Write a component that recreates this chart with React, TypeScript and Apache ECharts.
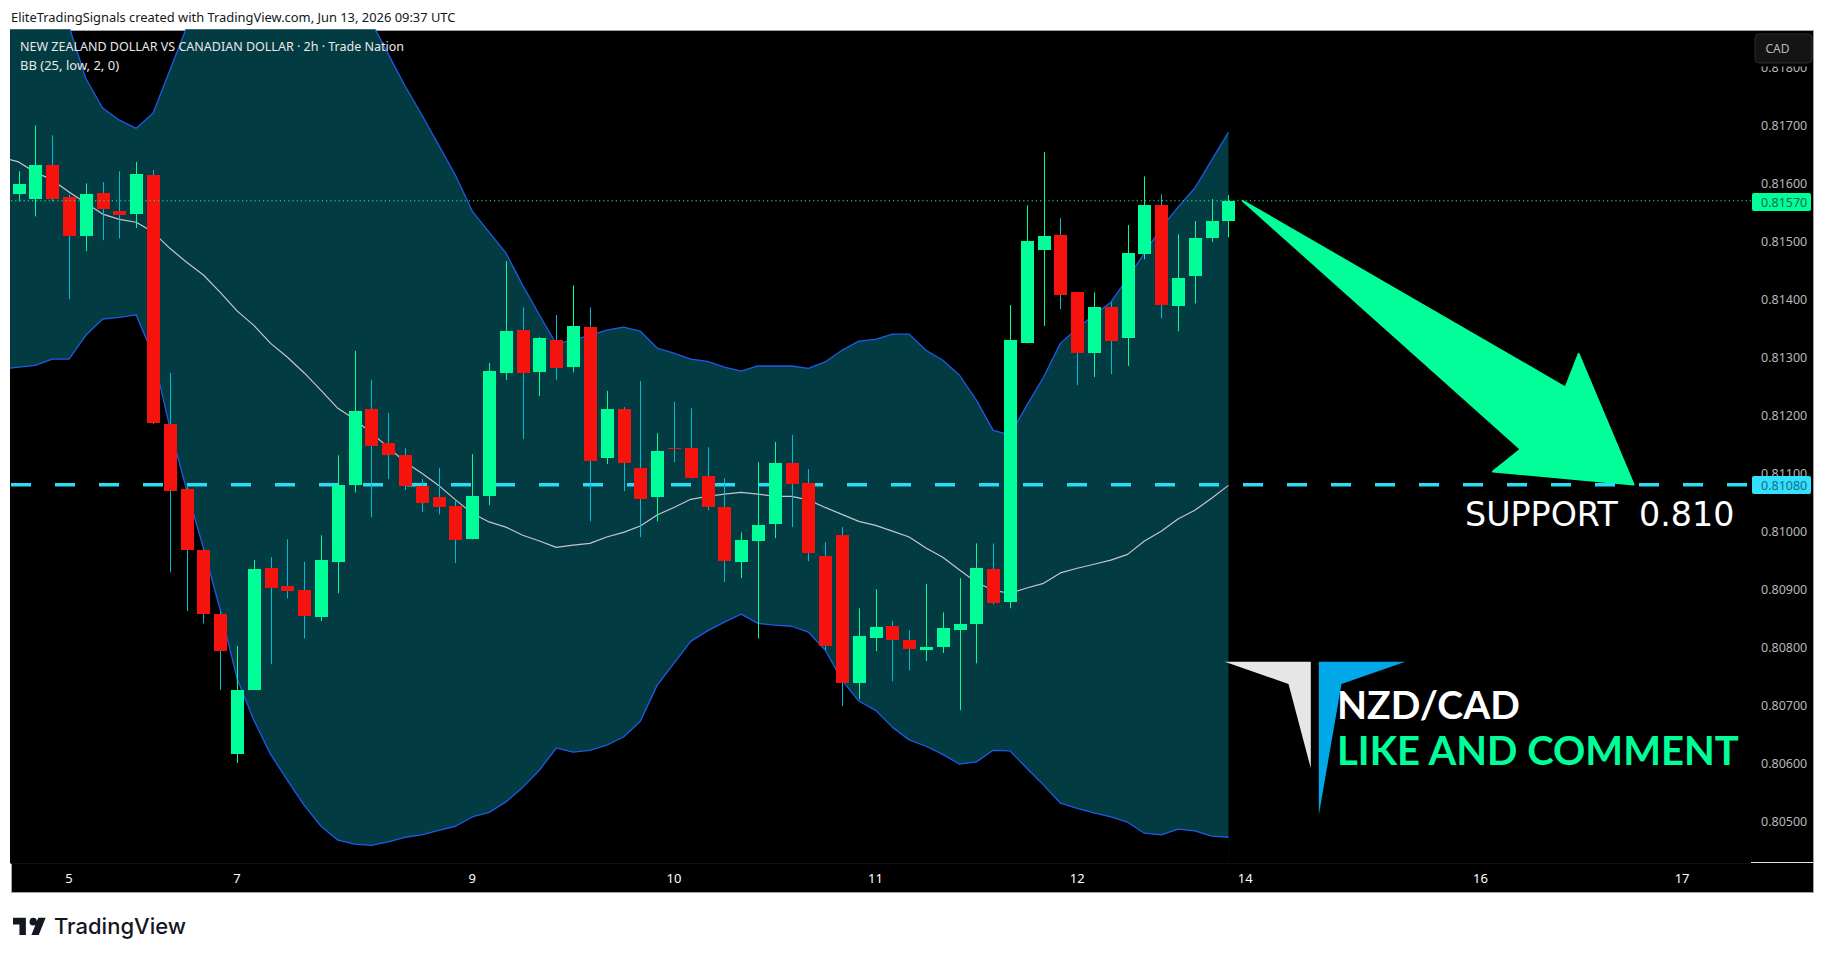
import React, { useEffect, useRef } from "react";
import * as echarts from "echarts";

// candles, 2h bars, left to right
const opens = [0.81581, 0.81573, 0.81631, 0.81576, 0.81509, 0.81583, 0.81552, 0.81547, 0.81614, 0.81185, 0.81073, 0.80967, 0.80857, 0.80615, 0.80726, 0.80936, 0.80905, 0.80898, 0.80852, 0.80947, 0.81079, 0.81211, 0.81152, 0.81131, 0.81078, 0.81059, 0.81043, 0.80986, 0.8106, 0.81273, 0.81347, 0.81274, 0.8133, 0.81283, 0.81352, 0.81126, 0.81211, 0.81109, 0.81059, 0.81143, 0.81143, 0.81095, 0.81041, 0.80947, 0.80983, 0.81012, 0.81117, 0.81083, 0.80957, 0.80993, 0.80738, 0.80815, 0.80836, 0.80812, 0.80795, 0.808, 0.80829, 0.8084, 0.80935, 0.80878, 0.81324, 0.81485, 0.81511, 0.81412, 0.81307, 0.81386, 0.81333, 0.81478, 0.81562, 0.81388, 0.8144, 0.81505, 0.81535];
const closes = [0.81599, 0.81631, 0.81573, 0.81509, 0.81581, 0.81555, 0.81545, 0.81616, 0.81186, 0.81069, 0.80967, 0.80857, 0.80793, 0.80726, 0.80935, 0.80902, 0.80897, 0.80853, 0.8095, 0.81079, 0.81207, 0.81147, 0.81131, 0.81078, 0.81048, 0.81041, 0.80985, 0.8106, 0.81276, 0.81345, 0.81273, 0.81333, 0.81281, 0.81354, 0.81121, 0.81211, 0.81117, 0.81055, 0.81138, 0.81141, 0.81091, 0.81041, 0.80948, 0.80985, 0.8101, 0.81117, 0.81081, 0.80962, 0.80802, 0.80738, 0.80819, 0.80834, 0.80812, 0.80796, 0.808, 0.80833, 0.8084, 0.80936, 0.80876, 0.8133, 0.815, 0.81509, 0.81407, 0.81307, 0.81386, 0.81328, 0.8148, 0.81562, 0.8139, 0.81436, 0.81505, 0.81535, 0.8157];
const lows = [0.81569, 0.81543, 0.81569, 0.814, 0.81483, 0.81502, 0.81505, 0.81523, 0.81185, 0.80929, 0.80862, 0.80841, 0.80726, 0.806, 0.80726, 0.80771, 0.80884, 0.80815, 0.80845, 0.80893, 0.81067, 0.81024, 0.8109, 0.81071, 0.81033, 0.81029, 0.80945, 0.80986, 0.81045, 0.81261, 0.81159, 0.81233, 0.81261, 0.81274, 0.81017, 0.81116, 0.81069, 0.8099, 0.81017, 0.81119, 0.81091, 0.81036, 0.80912, 0.80919, 0.80815, 0.80988, 0.81007, 0.80948, 0.80795, 0.80698, 0.8071, 0.80793, 0.80741, 0.8076, 0.80776, 0.8079, 0.80691, 0.80772, 0.80874, 0.80867, 0.81324, 0.81354, 0.81383, 0.81252, 0.81266, 0.81271, 0.81285, 0.81469, 0.81367, 0.81345, 0.81393, 0.81499, 0.81507];
const highs = [0.81621, 0.817, 0.81683, 0.81581, 0.816, 0.81602, 0.81621, 0.81637, 0.81623, 0.81273, 0.81076, 0.80969, 0.80862, 0.80802, 0.8095, 0.80955, 0.80986, 0.80947, 0.80993, 0.81131, 0.81311, 0.81261, 0.81204, 0.81143, 0.8109, 0.81109, 0.81054, 0.81133, 0.8129, 0.81466, 0.81386, 0.81335, 0.81373, 0.81424, 0.81386, 0.81242, 0.81214, 0.81259, 0.81169, 0.81223, 0.81212, 0.81145, 0.81091, 0.80998, 0.81119, 0.81154, 0.81166, 0.81107, 0.80981, 0.81007, 0.80867, 0.809, 0.80845, 0.80829, 0.80909, 0.8086, 0.80919, 0.80979, 0.80979, 0.8139, 0.81562, 0.81654, 0.8154, 0.81412, 0.81412, 0.81395, 0.81528, 0.81612, 0.81581, 0.81512, 0.81535, 0.81573, 0.8158];

// BB (25, low, 2, 0) - one extra point before the first candle, it runs off the left edge
const bbUpper = [0.81994, 0.81968, 0.81942, 0.81916, 0.81871, 0.81781, 0.8173, 0.81709, 0.81695, 0.81721, 0.81795, 0.81869, 0.81933, 0.81985, 0.8202, 0.82037, 0.82037, 0.82028, 0.82011, 0.81994, 0.81968, 0.81942, 0.81878, 0.81823, 0.81768, 0.81718, 0.81666, 0.81614, 0.81552, 0.81516, 0.8148, 0.81424, 0.81373, 0.81323, 0.8133, 0.81338, 0.81347, 0.81352, 0.81345, 0.81316, 0.81307, 0.81297, 0.81293, 0.81283, 0.81276, 0.81285, 0.81285, 0.81285, 0.81281, 0.81292, 0.81312, 0.81328, 0.81331, 0.8134, 0.8134, 0.81312, 0.81295, 0.81269, 0.81226, 0.81174, 0.81166, 0.81217, 0.81266, 0.81324, 0.8135, 0.81373, 0.81395, 0.81436, 0.8148, 0.81523, 0.81559, 0.81592, 0.8164, 0.81688];
const bbBasis = [0.81645, 0.81637, 0.81619, 0.81606, 0.81585, 0.81566, 0.81547, 0.81538, 0.81533, 0.81516, 0.81488, 0.81464, 0.81442, 0.81412, 0.8138, 0.81355, 0.81324, 0.813, 0.81273, 0.81243, 0.81212, 0.81193, 0.81169, 0.81145, 0.81119, 0.811, 0.81079, 0.81054, 0.81031, 0.81016, 0.81007, 0.80993, 0.80983, 0.80972, 0.80976, 0.80979, 0.8099, 0.80998, 0.81009, 0.81028, 0.81041, 0.81055, 0.8106, 0.81064, 0.81067, 0.81064, 0.8106, 0.8106, 0.81054, 0.81041, 0.81029, 0.81017, 0.8101, 0.81, 0.8099, 0.80971, 0.80955, 0.80933, 0.80912, 0.80898, 0.80893, 0.80902, 0.8091, 0.80928, 0.80936, 0.80943, 0.8095, 0.8096, 0.80983, 0.81, 0.81021, 0.81036, 0.81057, 0.81079];
const bbLower = [0.8128, 0.81283, 0.81286, 0.81297, 0.81297, 0.81338, 0.81366, 0.81369, 0.81373, 0.81304, 0.81179, 0.81071, 0.80971, 0.80864, 0.80746, 0.80674, 0.80615, 0.8057, 0.80527, 0.80491, 0.80467, 0.8046, 0.80458, 0.80464, 0.80472, 0.80476, 0.80484, 0.80491, 0.80507, 0.80515, 0.80533, 0.80558, 0.80588, 0.80626, 0.80619, 0.80622, 0.80631, 0.80645, 0.80672, 0.80734, 0.80772, 0.8081, 0.80828, 0.80843, 0.80857, 0.80841, 0.80838, 0.80836, 0.80826, 0.80795, 0.80743, 0.80707, 0.80691, 0.80662, 0.8064, 0.80629, 0.80615, 0.80598, 0.80602, 0.80622, 0.80621, 0.80591, 0.80562, 0.80531, 0.80522, 0.80514, 0.80507, 0.80498, 0.80479, 0.80476, 0.80486, 0.80483, 0.80474, 0.80472];

// time axis: bar index of each day label
const dayTickBars = [3, 13, 27, 39, 51, 63, 73, 87, 99];
const dayTickLabels = ["5", "7", "9", "10", "11", "12", "14", "16", "17"];
const priceTicks = [0.805, 0.806, 0.807, 0.808, 0.809, 0.81, 0.811, 0.812, 0.813, 0.814, 0.815, 0.816, 0.817, 0.818];

const lastPrice = 0.8157;
const supportPrice = 0.8108;

const GREEN = "#00ff99";
const RED = "#f7130d";
const RED_WICK = "#00bcd4";
const BLUE = "#1f5ae6";
const CYAN = "#2bdcf5";
const TEAL = "#033b43";

echarts.graphic.registerShape(
  "tvLogo",
  echarts.graphic.extendPath("M14 22H7V11H0V4h14v18zM28 22h-8l7.5-18h8L28 22zM22 4a4 4 0 1 1 0 8 4 4 0 0 1 0-8z", {})
);

export default function App() {
  const chartRef = useRef<HTMLDivElement>(null);

  useEffect(() => {
    if (!chartRef.current) return;
    const chart = echarts.init(chartRef.current, null, { renderer: "svg" });

    const candles = opens.map((o, i) => [i, o, closes[i], lows[i], highs[i]]);
    const withBars = (vals: number[]) => vals.map((v, i) => [i - 1, v]);

    const renderCandle = (params: any, api: any) => {
      const i = api.value(0);
      const o = api.value(1);
      const c = api.value(2);
      const cx = api.coord([i, o])[0];
      const x = Math.round(cx) + 0.5;
      const top = Math.round(api.coord([i, Math.max(o, c)])[1]);
      const bottom = Math.round(api.coord([i, Math.min(o, c)])[1]);
      const hi = api.coord([i, api.value(4)])[1];
      const lo = api.coord([i, api.value(3)])[1];
      const up = c >= o;
      return {
        type: "group",
        children: [
          { type: "line", shape: { x1: x, y1: hi, x2: x, y2: lo }, style: { stroke: up ? GREEN : RED_WICK, lineWidth: 1 } },
          { type: "rect", shape: { x: x - 6.5, y: top, width: 13, height: Math.max(bottom - top, 1) }, style: { fill: up ? GREEN : RED } },
        ],
      };
    };

    const priceTag = (text: string, y: number, bg: string, fg: string) => [
      { type: "rect", z: 60, shape: { x: 1752, y, width: 59, height: 18, r: 2 }, style: { fill: bg } },
      { type: "text", z: 61, style: { x: 1761, y: y + 9, text, fill: fg, font: "12.5px 'Noto Sans'", textVerticalAlign: "middle" } },
    ];

    chart.setOption({
      animation: false,
      backgroundColor: "#ffffff",
      grid: { left: 11, right: 74, top: 30, bottom: 96 },
      xAxis: {
        type: "value",
        min: -0.452,
        max: 103.1,
        splitLine: { show: false },
        axisLine: { show: true, lineStyle: { color: "#101010" } },
        axisTick: { show: false },
        axisLabel: {
          customValues: dayTickBars,
          color: "#ffffff",
          fontSize: 13,
          fontFamily: "Noto Sans",
          margin: 8,
          formatter: (v: number) => dayTickLabels[dayTickBars.indexOf(v)],
        },
      },
      yAxis: {
        type: "value",
        position: "right",
        min: 0.804276,
        max: 0.818646,
        scale: true,
        splitLine: { show: false },
        axisLine: { show: true, lineStyle: { color: "#101010" } },
        axisTick: { show: false },
        axisLabel: {
          customValues: priceTicks,
          color: "#b8b8b8",
          fontSize: 12.5,
          fontFamily: "Noto Sans",
          margin: 10,
          formatter: (v: number) => v.toFixed(5),
        },
      },
      series: [
        {
          name: "BB upper",
          type: "line",
          z: 2,
          data: withBars(bbUpper),
          showSymbol: false,
          lineStyle: { color: BLUE, width: 1.3 },
          areaStyle: { color: TEAL, opacity: 1, origin: "start" },
        },
        {
          name: "BB lower",
          type: "line",
          z: 2,
          data: withBars(bbLower),
          showSymbol: false,
          lineStyle: { color: BLUE, width: 1.3 },
          areaStyle: { color: "#000000", opacity: 1, origin: "start" },
        },
        {
          name: "BB basis",
          type: "line",
          z: 2,
          data: withBars(bbBasis),
          showSymbol: false,
          lineStyle: { color: "#c4c6cc", width: 1.2 },
        },
        {
          name: "Support",
          type: "line",
          z: 3,
          data: [[-0.452, supportPrice], [103.1, supportPrice]],
          showSymbol: false,
          lineStyle: { color: CYAN, width: 3.6, type: [20, 24] },
        },
        {
          name: "NZDCAD",
          type: "custom",
          z: 4,
          clip: true,
          data: candles,
          encode: { x: 0, y: [1, 2, 3, 4] },
          renderItem: renderCandle,
        },
        {
          name: "Last price",
          type: "line",
          z: 5,
          data: [[-0.452, lastPrice], [103.1, lastPrice]],
          showSymbol: false,
          lineStyle: { color: GREEN, width: 1, type: [1.2, 3] },
        },
      ],
      graphic: [
        // chart frame
        { type: "rect", z: -10, shape: { x: 11.5, y: 30.5, width: 1802, height: 862 }, style: { fill: "#000000", stroke: "#a3a3a3", lineWidth: 1 } },
        { type: "line", z: 10, shape: { x1: 1751, y1: 862.5, x2: 1813, y2: 862.5 }, style: { stroke: "#e8e8e8", lineWidth: 1 } },

        // header and legend
        { type: "text", z: 50, style: { x: 11, y: 17, text: "EliteTradingSignals created with TradingView.com, Jun 13, 2026 09:37 UTC", fill: "#131722", font: "12.9px 'Noto Sans'", textVerticalAlign: "middle" } },
        { type: "text", z: 50, style: { x: 20, y: 46, text: "NEW ZEALAND DOLLAR VS CANADIAN DOLLAR · 2h · Trade Nation", fill: "#e8e8e8", font: "12.5px 'Noto Sans'", textVerticalAlign: "middle" } },
        { type: "text", z: 50, style: { x: 20, y: 65, text: "BB (25, low, 2, 0)", fill: "#e8e8e8", font: "13px 'Noto Sans'", textVerticalAlign: "middle" } },

        // currency button, the top tick label runs under it
        { type: "rect", z: 59, shape: { x: 1752, y: 31, width: 61, height: 35.5 }, style: { fill: "#000000" } },
        { type: "rect", z: 60, shape: { x: 1755, y: 34, width: 57, height: 29, r: 4 }, style: { fill: "#141414", stroke: "#2c2c2c", lineWidth: 1 } },
        { type: "text", z: 61, style: { x: 1765.5, y: 48.5, text: "CAD", fill: "#b8b8b8", font: "12px 'Noto Sans'", textVerticalAlign: "middle" } },

        // price tags
        ...priceTag("0.81570", 193, GREEN, "#176b4c"),
        ...priceTag("0.81080", 476, "#33e0ff", "#176f82"),

        // arrow drawing
        {
          type: "polygon",
          z: 1,
          shape: { points: [[1243, 201], [1565.5, 387.5], [1578.6, 354], [1633.5, 484.5], [1493, 471.5], [1520.8, 449.3]] },
          style: { fill: GREEN, stroke: GREEN, lineWidth: 2, lineJoin: "round" },
        },
        { type: "text", z: 50, style: { x: 1465, y: 514, text: "SUPPORT  0.810", fill: "#ffffff", font: "33.3px 'DejaVu Sans'", textVerticalAlign: "middle" } },

        // brand mark
        { type: "polygon", z: 40, shape: { points: [[1224.7, 661.7], [1310.8, 661.7], [1310.8, 768.3], [1288.5, 684]] }, style: { fill: "#e6e6e6" } },
        { type: "polygon", z: 40, shape: { points: [[1318.8, 661.7], [1405.3, 661.7], [1341.5, 684], [1318.8, 815]] }, style: { fill: "#00a8e8" } },
        { type: "text", z: 50, style: { x: 1337, y: 704, text: "NZD/CAD", fill: "#ffffff", font: "bold 39px Lato", textVerticalAlign: "middle" } },
        { type: "text", z: 50, style: { x: 1337, y: 750, text: "LIKE AND COMMENT", fill: GREEN, font: "bold 40px Lato", textVerticalAlign: "middle" } },

        // TradingView footer
        { type: "tvLogo", z: 50, x: 13, y: 914, scaleX: 0.92, scaleY: 0.96, style: { fill: "#131722" } },
        { type: "text", z: 50, style: { x: 54, y: 926, text: "TradingView", fill: "#131722", font: "500 22px Inter", textVerticalAlign: "middle" } },
      ],
    });

    return () => {
      chart.dispose();
    };
  }, []);

  return <div ref={chartRef} style={{ position: "fixed", left: 0, top: 0, width: 1825, height: 959 }} />;
}
